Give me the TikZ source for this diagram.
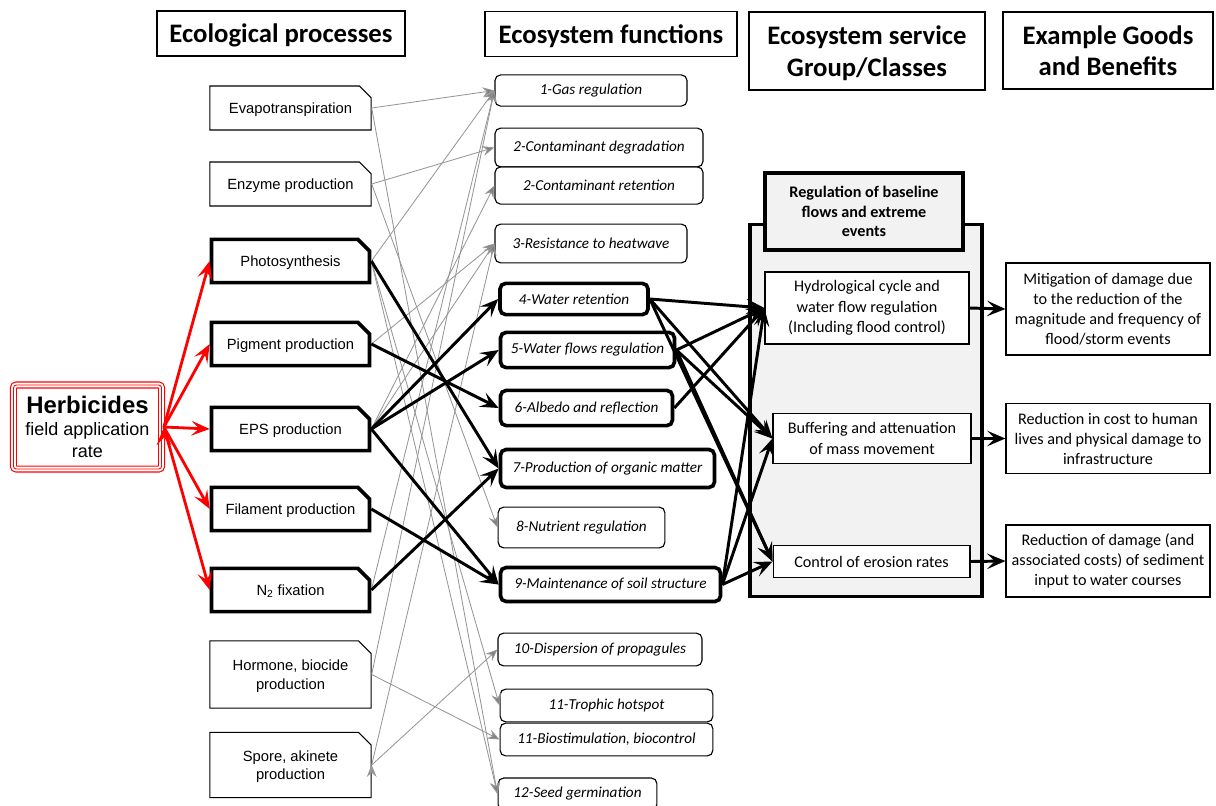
\documentclass[tikz,border=0pt]{standalone}
\usepackage{fontspec}
\setmainfont{Carlito}
\newfontfamily\arial{Liberation Sans}
\usepackage{tikz}
\usetikzlibrary{arrows.meta}
\usetikzlibrary{shapes.misc}
\definecolor{boxgray}{RGB}{242,242,242}
\definecolor{linkgray}{RGB}{150,150,150}
\tikzstyle{head} = [draw,line width=0.8pt,align=center,inner sep=0pt,text depth=0pt,font=\bfseries\fontsize{19}{22.5}\selectfont]
\tikzstyle{proc} = [chamfered rectangle,chamfered rectangle corners=north east,chamfered rectangle xsep=4.5pt,chamfered rectangle ysep=4.5pt,draw,line width=0.8pt,align=center,inner sep=0pt,text depth=0pt,minimum width=4.03cm,minimum height=1.1cm,font=\arial\fontsize{10.5}{13}\selectfont]
\tikzstyle{keyproc} = [proc,line width=2.6pt,minimum width=3.95cm,minimum height=1.08cm]
\tikzstyle{herb} = [rounded corners=2pt,align=center,inner sep=0pt,minimum width=3.7cm,minimum height=2.1cm,preaction={draw=red,line width=5pt},draw=white,line width=3.4pt,postaction={draw=red,line width=0.6pt},font=\arial\fontsize{12.8}{15.5}\selectfont]
\tikzstyle{func} = [rectangle,rounded corners=4pt,draw,line width=0.8pt,inner sep=0pt,font=\itshape\fontsize{10.8}{13}\selectfont]
\tikzstyle{keyfunc} = [func,line width=2.6pt]
\tikzstyle{svc} = [draw,fill=boxgray,line width=2.6pt,inner sep=0pt]
\tikzstyle{svchead} = [svc,align=center,font=\bfseries\fontsize{11.5}{14}\selectfont]
\tikzstyle{svcitem} = [draw,fill=white,line width=0.8pt,align=center,inner sep=0pt,font=\fontsize{11.5}{14.5}\selectfont]
\tikzstyle{good} = [draw,line width=0.8pt,align=center,inner sep=0pt,font=\fontsize{11.5}{14.2}\selectfont]
\tikzstyle{link} = [-{Stealth[length=8.5pt,width=7pt,inset=3pt]},draw=linkgray,fill=gray,line width=0.6pt]
\tikzstyle{keylink} = [-{Stealth[length=13pt,width=11pt,inset=5.5pt]},line width=2.1pt]
\tikzstyle{redlink} = [-{Stealth[length=13pt,width=10.5pt,inset=5.5pt]},draw=red,fill=red,line width=2pt]

\begin{document}
\begin{tikzpicture}[x=0.025cm,y=-0.025cm]
    \useasboundingbox (0,0) rectangle (1216,805);

    % column heads
    \node[head,minimum width=6.2cm,minimum height=1.125cm] (hproc) at (281,33.5) {Ecological processes};
    \node[head,minimum width=6.3cm,minimum height=1.125cm] (hfunc) at (611,34) {Ecosystem functions};
    \node[head,minimum width=5.9cm,minimum height=1.95cm] (hserv) at (867,51) {Ecosystem service\\Group/Classes};
    \node[head,minimum width=5.25cm,minimum height=1.925cm] (hgood) at (1108,50.5) {Example Goods\\and Benefits};

    % driver
    \node[herb] (herb) at (87.5,427) {{\bfseries\fontsize{17}{20}\selectfont Herbicides}\\field application\\rate};

    % ecological processes
    \node[proc] (evap) at (290.5,108) {Evapotranspiration};
    \node[proc] (enz) at (290.5,184) {Enzyme production};
    \node[keyproc] (photo) at (290.5,261) {Photosynthesis};
    \node[keyproc] (pig) at (290.5,344) {Pigment production};
    \node[keyproc] (eps) at (290.5,429) {EPS production};
    \node[keyproc] (fil) at (290.5,509) {Filament production};
    \node[keyproc] (ntwo) at (290.5,590) {N\textsubscript{2} fixation};
    \node[proc,minimum height=1.68cm] (horm) at (290.5,674.5) {Hormone, biocide\\production};
    \node[proc,minimum height=1.63cm] (spore) at (290.5,765) {Spore, akinete\\production};

    % ecosystem functions
    \node[func,minimum width=4.8cm,minimum height=0.78cm] (f1) at (591,90.5) {1-Gas regulation};
    \node[func,minimum width=5.2cm,minimum height=0.97cm] (f2a) at (599,147.5) {2-Contaminant degradation};
    \node[func,minimum width=5.2cm,minimum height=0.93cm] (f2b) at (599,185.5) {2-Contaminant retention};
    \node[func,minimum width=4.8cm,minimum height=0.97cm] (f3) at (591,243.5) {3-Resistance to heatwave};
    \node[keyfunc,minimum width=3.7cm,minimum height=0.78cm] (f4) at (574,299) {4-Water retention};
    \node[keyfunc,minimum width=4.35cm,minimum height=0.88cm] (f5) at (587.5,350) {5-Water flows regulation};
    \node[keyfunc,minimum width=4.3cm,minimum height=0.88cm] (f6) at (586.5,408) {6-Albedo and reflection};
    \node[keyfunc,minimum width=5.35cm,minimum height=0.95cm] (f7) at (607.5,468.5) {7-Production of organic matter};
    \node[func,minimum width=4.17cm,minimum height=1.02cm] (f8) at (581.5,527.5) {8-Nutrient regulation};
    \node[keyfunc,minimum width=5.5cm,minimum height=0.85cm] (f9) at (610.5,584.5) {9-Maintenance of soil structure};
    \node[func,minimum width=5.1cm,minimum height=0.82cm] (f10) at (600,649.5) {10-Dispersion of propagules};
    \node[func,minimum width=5.32cm,minimum height=0.82cm] (f11a) at (606.5,705.5) {11-Trophic hotspot};
    \node[func,minimum width=5.32cm,minimum height=0.82cm] (f11b) at (606.5,739.5) {11-Biostimulation, biocontrol};
    \node[func,minimum width=3.97cm,minimum height=0.8cm] (f12) at (577.5,794) {12-Seed germination};

    % service group
    \node[svc,minimum width=5.8cm,minimum height=9.3cm] (grp) at (866,410.5) {};
    \node[svchead,minimum width=4.95cm,minimum height=1.92cm] (ghead) at (864,211.5) {Regulation of baseline\\flows and extreme\\events};
    \node[svcitem,minimum width=5.1cm,minimum height=1.8cm] (hydro) at (867,308) {Hydrological cycle and\\water flow regulation\\(Including flood control)};
    \node[svcitem,minimum width=4.95cm,minimum height=1.27cm] (buff) at (872,438.5) {Buffering and attenuation\\of mass movement};
    \node[svcitem,minimum width=4.92cm,minimum height=0.78cm] (eros) at (871.5,561.5) {Control of erosion rates};

    % goods and benefits
    \node[good,minimum width=5.1cm,minimum height=2.3cm] (b1) at (1108,309) {Mitigation of damage due\\to the reduction of the\\magnitude and frequency of\\flood/storm events};
    \node[good,minimum width=5.1cm,minimum height=1.77cm] (b2) at (1108,438.5) {Reduction in cost to human\\lives and physical damage to\\infrastructure};
    \node[good,minimum width=5.1cm,minimum height=1.8cm] (b3) at (1108,561) {Reduction of damage (and\\associated costs) of sediment\\input to water courses};

    % links
    \path[link]
      \foreach \a/\b in {evap/f1,evap/f12,enz/f2a,enz/f8,photo/f1,photo/f11a,photo/f12,pig/f3,eps/f2b,eps/f3,ntwo/f1,horm/f1,horm/f11b,spore/f10,spore/f3} {
        (\a.east) edge (\b.west)
      } ;
    \path[redlink]
      \foreach \p in {photo,pig,eps,fil,ntwo} {
        (herb.east) edge (\p.west)
      } ;
    \path[keylink]
      \foreach \a/\b in {photo/f7,pig/f6,eps/f4,eps/f5,eps/f9,fil/f9,ntwo/f7,f4/hydro,f4/buff,f4/eros,f5/hydro,f5/buff,f5/eros,f6/hydro,f9/hydro,f9/buff,f9/eros,hydro/b1,buff/b2,eros/b3} {
        (\a.east) edge (\b.west)
      } ;
\end{tikzpicture}
\end{document}
